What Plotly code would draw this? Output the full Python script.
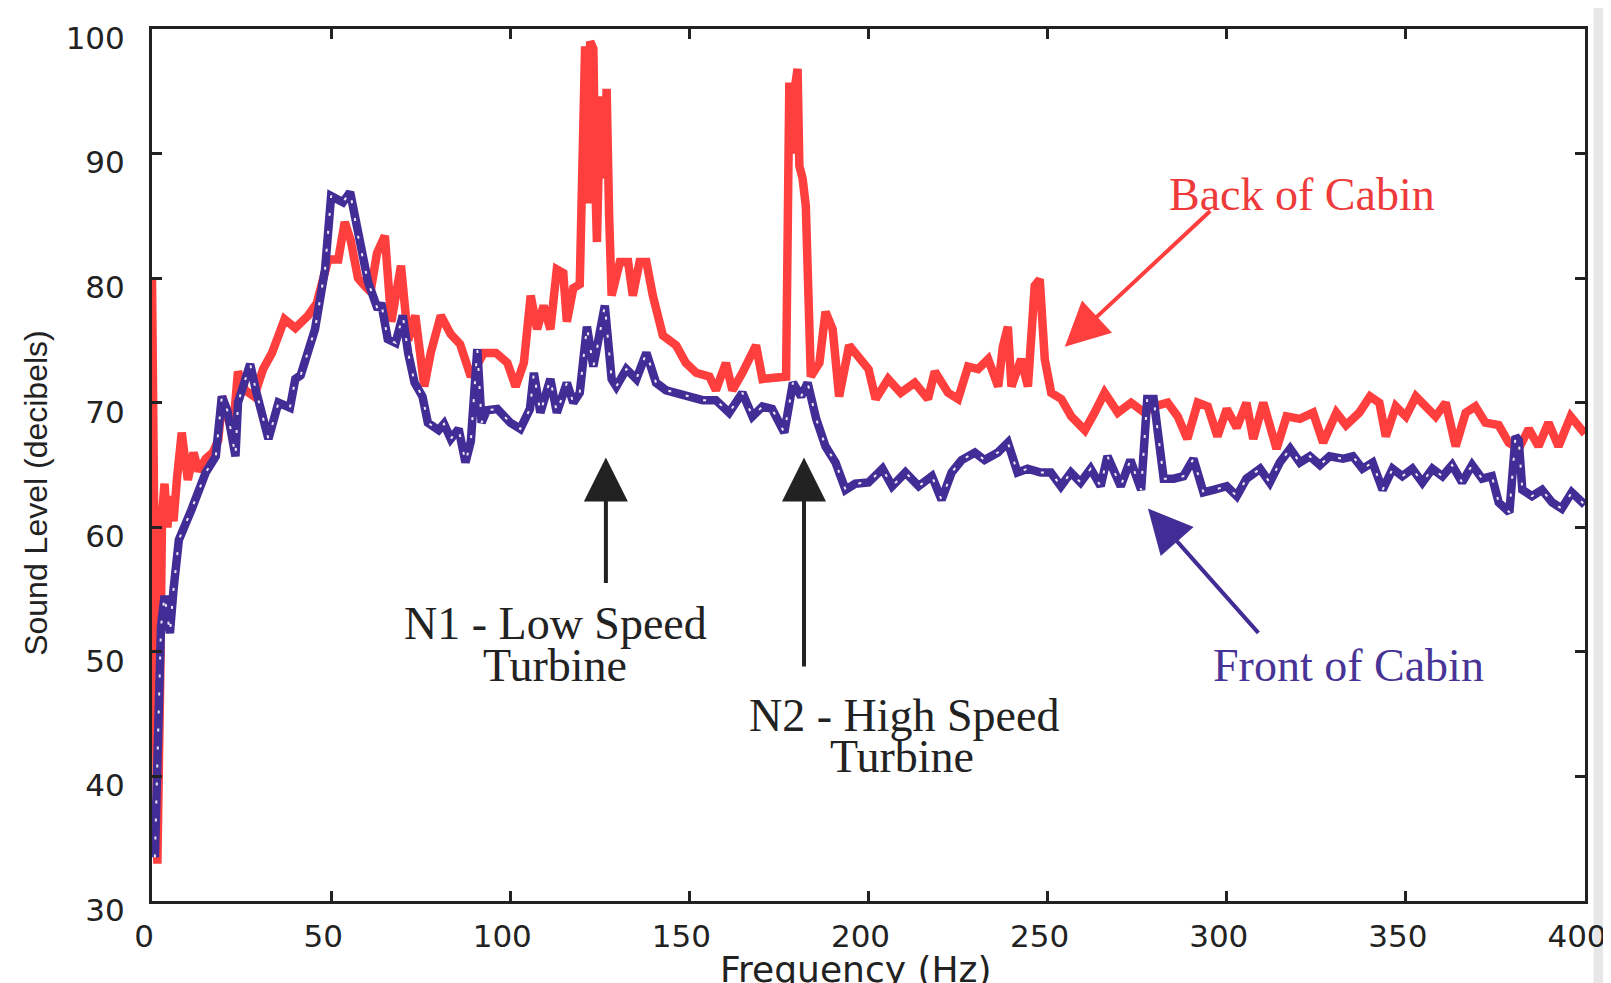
import plotly.graph_objects as go

# ---------------- data ----------------
freq_back = [0, 0.8, 1.5, 2.3, 2.8, 3.5, 4.3, 5, 6, 7, 8.3, 9, 10, 11.6, 13, 15, 17, 18.5, 19.6, 21,
             22.5, 24, 26, 28.5, 31, 33.5, 35, 37, 40, 43.6, 46, 49.2, 52, 53.8, 55.5, 57.5, 59, 61,
             62.8, 65, 66.8, 68, 69.5, 71.5, 73.5, 76, 77.8, 80.6, 83.4, 86, 89, 92.6, 96, 99.2,
             101.5, 103.8, 105.7, 107.5, 109.3, 111.2, 113, 114.8, 115.8, 117.6, 119.4, 120.9, 121.6,
             122.3, 123.2, 123.8, 124.2, 125, 125.5, 126.2, 126.9, 127.6, 128.3, 130.6, 132.9, 134.2,
             136.1, 138, 139.8, 142.6, 146.3, 149, 151.9, 155.6, 157.4, 160.2, 162, 164.8, 168.6,
             170.4, 174, 177, 177.9, 178.6, 179.3, 180.2, 180.7, 181.6, 182.5, 183.9, 186.3, 188, 190,
             191.8, 194.6, 197.4, 200, 202, 205.5, 209, 212.9, 216.6, 218.5, 222.2, 225, 227.8, 230.6,
             233.4, 236.2, 237.5, 238.9, 239.9, 242.6, 244.5, 246.4, 247.8, 249.2, 251, 253.8, 256.6,
             260.4, 263.1, 265.9, 269.6, 273.3, 277, 279.8, 283.5, 286.3, 289, 291.9, 294.7, 297.4,
             300, 302.8, 305.5, 307.4, 310.2, 313.9, 316.7, 320.4, 324.1, 326.9, 330.6, 333.3, 337,
             340, 342.6, 344.4, 347.2, 350, 352.8, 355.5, 358.3, 361.1, 363.9, 366.7, 369.4, 372.2,
             375.9, 378.7, 381.5, 384.3, 387, 389.8, 392.6, 396, 400]
level_back = [80, 55, 33, 48, 61, 63.5, 60, 62.5, 60.5, 64, 67.6, 66, 63.8, 66, 64.5, 65.5, 66, 67, 70.5, 69,
              67.5, 72.5, 71, 70.5, 72.7, 74, 75, 76.7, 76, 77, 78, 81.5, 81.5, 84.5, 83, 80, 79.5, 78.9,
              82, 83.4, 76.5, 79, 81, 75, 77, 71.3, 74, 77, 75.5, 74.7, 72.1, 74, 74, 73.2,
              71.3, 73.2, 78.6, 75.9, 77.8, 75.9, 80.7, 80.4, 76.5, 79.2, 79.5, 98.6, 86,
              99, 98.4, 87, 82.9, 93, 94.6, 88, 95.2, 85, 78.6, 81.3, 81.3, 78.6,
              81.3, 81.3, 78.6, 75.4, 74.6, 73.2, 72.4, 72.1, 71, 73.2, 71, 72.4, 74.6,
              71.9, 72.1, 72.1, 95.7, 90, 95, 96.8, 89, 88, 85.8, 72.1, 73.2, 77.3, 75.9,
              70.5, 74.6, 73.5, 72.7, 70.3, 71.9, 70.8, 71.6, 70.3, 72.5, 70.8, 70.3, 72.9, 72.7,
              73.5, 71.3, 74.5, 76.1, 71.3, 73.5, 71.3, 79.4, 79.9, 73.5, 70.8, 70.3, 68.9,
              67.8, 69.2, 70.8, 69.2, 70, 69.2, 69.7, 70, 68.9, 67.1, 70, 69.7, 67.3,
              69.5, 68, 70, 67.1, 70, 66.3, 68.9, 68.7, 69.2, 66.8, 69.2, 68.2, 69.2,
              70.5, 70, 67.3, 69.7, 68.9, 70.5, 69.7, 68.9, 70, 66.5, 69.2, 69.7, 68.4,
              68.2, 66.8, 66.3, 67.9, 66.5, 68.4, 66.5, 68.9, 67.5]

freq_front = [0.8, 1.5, 2.5, 3.5, 5, 6, 7.5, 11, 15, 17.8, 19.5, 21, 23.3, 24, 27.4, 29, 32.5, 35.3,
              38.5, 40, 41.5, 45.5, 48.3, 50, 51.5, 53.3, 55.3, 57.5, 60.3, 63, 64, 65.8, 68, 70,
              71.5, 73.3, 75.5, 77, 80, 81.5, 83.4, 85.6, 87.5, 89, 90.8, 92, 93.5, 96.4, 100,
              102.8, 105.5, 106.6, 108.4, 111.2, 113, 115.8, 117.6, 119.4, 121.4, 123.2, 124.2,
              126.4, 128.3, 129.6, 132.4, 135.2, 138, 140.7, 143.5, 146.3, 150, 153.7, 157.4,
              161.1, 164.8, 167.6, 170.4, 173.1, 176.5, 178.9, 181.2, 183, 185.4, 188, 190.8,
              193.6, 196.3, 200, 203.9, 206.6, 210.3, 214, 217.7, 220.4, 223.2, 226, 229.7, 232.4,
              236.1, 238.9, 241.6, 244.4, 248.1, 250.9, 253.7, 256.5, 259.2, 262, 264.8, 266.7,
              270.4, 273.1, 276.1, 277.8, 279.6, 282.4, 285.2, 287.9, 290.7, 293.5, 296.3, 300,
              302.8, 305.5, 309.3, 312, 314.8, 317.7, 320.4, 323.2, 326, 328.7, 332.4, 335.2,
              337.9, 340.7, 343.5, 346.3, 349, 351.8, 354.6, 357.4, 360.2, 362.9, 365.7, 368.5,
              371.3, 374, 375.9, 378.9, 380.6, 381.5, 382.5, 385.2, 388, 390.8, 393.5, 396.3, 400]
level_front = [33.5, 42, 52, 54.5, 51.5, 55, 59, 61.4, 64.4, 65.7, 70.5, 69.4, 65.7, 70, 73.1, 71, 67.1, 70,
               69.6, 71.9, 72.2, 75.9, 80.7, 86.6, 86.3, 86.1, 86.9, 83.4, 79.7, 77.5, 78, 75.1, 74.8, 77,
               74, 71.6, 70.5, 68.4, 67.8, 68.3, 67.1, 67.9, 65.2, 66.9, 74.3, 68.4, 69.4, 69.5, 68.4,
               67.9, 69.5, 72.4, 69.2, 71.9, 69.2, 71.6, 70, 70.8, 76.1, 72.9, 74.3,
               77.8, 71.9, 71.3, 72.7, 71.9, 74, 71.6, 71, 70.8, 70.5, 70.2, 70.2,
               69.2, 70.8, 68.9, 69.7, 69.5, 67.6, 71.6, 70.5, 71.6, 68.7, 66.5, 65.2,
               63, 63.5, 63.6, 64.7, 63.3, 64.4, 63.3, 64.1, 62.2, 64.4, 65.4, 66, 65.4,
               66, 66.8, 64.4, 64.7, 64.4, 64.4, 63.3, 64.4, 63.6, 64.7, 63.3, 65.7,
               63.3, 65.4, 63, 70.3, 70.3, 63.9, 63.9, 64.1, 65.5, 62.8, 63, 63.3,
               62.5, 63.9, 64.7, 63.6, 65.2, 66.3, 65.2, 65.7, 65, 65.7, 65.5, 65.7,
               64.7, 65.2, 63, 64.7, 64.1, 64.7, 63.6, 64.7, 64.1, 65, 63.6, 65,
               63.9, 64.1, 62, 61.2, 67.3, 67, 63, 62.5, 63, 62, 61.5, 62.8, 61.8]

x_ticks = [0, 50, 100, 150, 200, 250, 300, 350, 400]
y_ticks = [30, 40, 50, 60, 70, 80, 90, 100]

# ---------------- styles ----------------
RED = "rgb(255,62,62)"
BLUE = "rgb(66,44,150)"
INK = "#222222"
TICK_FONT = dict(family="DejaVu Sans", size=31, color=INK)
SERIF = "Liberation Serif, Times New Roman, serif"

fig = go.Figure()
fig.add_trace(go.Scatter(x=freq_back, y=level_back, mode="lines",
                         line=dict(color=RED, width=8.5), hoverinfo="skip"))
fig.add_trace(go.Scatter(x=freq_front, y=level_front, mode="lines",
                         line=dict(color=BLUE, width=8.5), hoverinfo="skip"))
fig.add_trace(go.Scatter(x=freq_front, y=level_front, mode="lines",
                         line=dict(color="rgba(255,255,255,0.9)", width=2, dash="3px,15px"),
                         hoverinfo="skip"))

axis_common = dict(ticks="inside", ticklen=10, tickwidth=3, tickcolor=INK,
                   showline=True, linewidth=3, linecolor=INK, mirror="ticks",
                   showgrid=False, zeroline=False, tickfont=TICK_FONT, automargin=False)
fig.update_xaxes(range=[0, 400], tickvals=x_ticks, ticktext=[str(v) for v in x_ticks],
                 ticklabelstandoff=6, ticklabelshift=-8, **axis_common)
fig.update_yaxes(range=[30, 100], tickvals=y_ticks, ticktext=[str(v) for v in y_ticks],
                 ticklabelstandoff=18, ticklabelshift=9, **axis_common)

ann = []
# axis titles
ann.append(dict(text="Frequency (Hz)", xref="paper", yref="paper", x=0.491, y=-0.078,
                xanchor="center", yanchor="middle", showarrow=False,
                font=dict(family="DejaVu Sans", size=36, color=INK)))
ann.append(dict(text="Sound Level (decibels)", xref="paper", yref="paper", x=-0.081, y=0.468,
                xanchor="center", yanchor="middle", textangle=-90, showarrow=False,
                font=dict(family="Liberation Sans Narrow, Liberation Sans, Arial", size=32, color=INK)))

# labels
def label(text, x, y, color, size=46):
    ann.append(dict(text=text, x=x, y=y, xref="x", yref="y", showarrow=False,
                    xanchor="center", yanchor="middle",
                    font=dict(family=SERIF, size=size, color=color)))

label("Back of Cabin", 321, 86.7, "rgb(238,58,58)")
label("Front of Cabin", 334, 48.9, "rgb(72,52,150)")
label("N1 - Low Speed", 112.5, 52.3, INK)
label("Turbine", 112.5, 48.9, INK)
label("N2 - High Speed", 210, 44.9, INK)
label("Turbine", 209.3, 41.6, INK)

# arrows
def arrow(x_tip, y_tip, x_tail, y_tail, color):
    ann.append(dict(text="", x=x_tip, y=y_tip, ax=x_tail, ay=y_tail,
                    xref="x", yref="y", axref="x", ayref="y",
                    showarrow=True, arrowhead=2, arrowsize=2.2, arrowwidth=4,
                    arrowcolor=color))

arrow(254.8, 74.5, 295.8, 85.5, RED)
arrow(278, 61.5, 309.2, 51.4, BLUE)
arrow(126.7, 65.6, 126.7, 55.4, INK)
arrow(182, 65.6, 182, 48.7, INK)

# the page body adds an 8px offset, so margins are reduced on the left/top accordingly
fig.update_layout(
    width=1611, height=983,
    margin=dict(l=144, r=34, t=21, b=90),
    paper_bgcolor="white", plot_bgcolor="white",
    showlegend=False,
    annotations=ann,
    shapes=[dict(type="rect", xref="paper", yref="paper", x0=1.006, x1=1.03, y0=-0.1, y1=1.04,
                 fillcolor="rgba(215,215,215,0.6)", line=dict(width=0), layer="below")],
)

fig.write_html("out.html")
